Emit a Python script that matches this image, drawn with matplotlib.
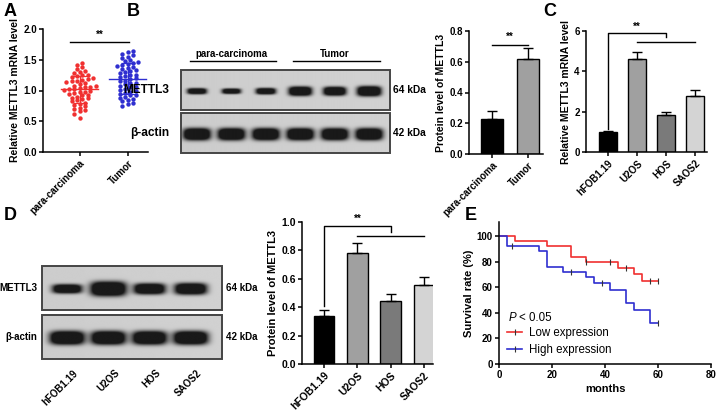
import numpy as np
import matplotlib
matplotlib.use("Agg")
import matplotlib.pyplot as plt
from matplotlib.patches import Rectangle
from matplotlib.lines import Line2D

plt.rcParams['font.family'] = ['Liberation Sans', 'DejaVu Sans']
plt.rcParams['font.weight'] = 'bold'
plt.rcParams['axes.labelweight'] = 'bold'
plt.rcParams['font.size'] = 7

W, H = 716, 413
fig = plt.figure(figsize=(W / 100, H / 100), dpi=100)

# ---- data ----
para_vals = [1.45, 1.41, 1.38, 1.35, 1.32, 1.30, 1.28, 1.26, 1.25, 1.23, 1.22, 1.20, 1.18, 1.17,
             1.16, 1.15, 1.14, 1.12, 1.10, 1.08, 1.07, 1.06, 1.05, 1.04, 1.03, 1.02, 1.01, 1.00,
             0.98, 0.97, 0.96, 0.95, 0.93, 0.92, 0.90, 0.88, 0.87, 0.86, 0.85, 0.83, 0.80, 0.78,
             0.76, 0.74, 0.72, 0.70, 0.68, 0.66, 0.62, 0.56]
tumor_vals = [1.65, 1.62, 1.60, 1.58, 1.55, 1.53, 1.50, 1.48, 1.46, 1.45, 1.43, 1.42, 1.40, 1.38,
              1.37, 1.35, 1.33, 1.31, 1.30, 1.28, 1.26, 1.25, 1.24, 1.22, 1.20, 1.18, 1.16, 1.15,
              1.13, 1.12, 1.10, 1.08, 1.06, 1.05, 1.03, 1.01, 1.00, 0.98, 0.96, 0.95, 0.93, 0.92,
              0.90, 0.88, 0.86, 0.85, 0.83, 0.80, 0.78, 0.75]
groups = ['para-carcinoma', 'Tumor']

b_protein = [0.225, 0.615]
b_err = [0.055, 0.075]
b_mettl3_bands = [0.45, 0.38, 0.5, 0.85, 0.8, 0.95]
b_actin_bands = [0.9, 0.9, 0.9, 0.9, 0.85, 0.9]

cells = ['hFOB1.19', 'U2OS', 'HOS', 'SAOS2']
c_mrna = [0.97, 4.62, 1.85, 2.8]
c_err = [0.08, 0.36, 0.15, 0.26]
d_protein = [0.335, 0.785, 0.445, 0.555]
d_err = [0.045, 0.065, 0.045, 0.055]
d_mettl3_bands = [0.55, 1.0, 0.7, 0.75]
d_actin_bands = [0.9, 0.9, 0.85, 0.9]

low_t = [0, 6, 18, 27, 33, 45, 51, 54, 60]
low_s = [100, 96, 92, 84, 80, 75, 70, 65, 65]
low_cens = [33, 42, 48, 57, 60]
high_t = [0, 3, 15, 18, 24, 33, 36, 42, 48, 51, 57, 60]
high_s = [100, 92, 88, 76, 72, 68, 63, 58, 47.5, 42, 32, 32]
high_cens = [5, 27, 39, 60]

bar_cols4 = ['#000000', '#a0a0a0', '#7a7a7a', '#d4d4d4']
red = '#f03030'
blue = '#2f2fd0'


def px_axes(x0, y0, x1, y1):
    return fig.add_axes([x0 / W, 1 - y1 / H, (x1 - x0) / W, (y1 - y0) / H])


def style(ax):
    for s in ['top', 'right']:
        ax.spines[s].set_visible(False)
    for s in ['left', 'bottom']:
        ax.spines[s].set_linewidth(1.1)
    ax.tick_params(width=1.1, length=3, pad=1.5, labelsize=7)


def bar_panel(ax, vals, errs, names, cols, ylim, yticks, ylabel):
    x = np.arange(len(vals))
    ax.bar(x, vals, width=0.62, color=cols, edgecolor='black', linewidth=1)
    ax.errorbar(x, vals, yerr=[np.zeros(len(vals)), errs], fmt='none', ecolor='black',
                elinewidth=1, capsize=3.5, capthick=1)
    ax.set_ylim(*ylim)
    ax.set_yticks(yticks)
    ax.set_xticks(x)
    ax.set_xticklabels(names, rotation=45, ha='right', rotation_mode='anchor')
    ax.set_ylabel(ylabel, fontsize=7.5, labelpad=2)
    style(ax)


# ---- A: scatter ----
axA = px_axes(43, 29, 148, 152)
for i, (vals, col) in enumerate([(para_vals, red), (tumor_vals, blue)]):
    v = np.array(sorted(vals))
    bins = np.round(v / 0.065).astype(int)
    xs = np.zeros(len(v))
    for b in np.unique(bins):
        idx = np.where(bins == b)[0]
        n = len(idx)
        xs[idx] = (np.arange(n) - (n - 1) / 2) * 0.11
    axA.scatter(i + xs, v, s=10, color=col, linewidths=0, zorder=3)
    m, sd = v.mean(), v.std(ddof=1)
    axA.plot([i - 0.38, i + 0.38], [m, m], color=col, lw=1, zorder=4)
    axA.errorbar([i], [m], yerr=[[sd], [sd]], fmt='none', ecolor=col, elinewidth=0.9,
                 capsize=5, capthick=0.9, zorder=4)
axA.plot([-0.2, 1.02], [1.79, 1.79], color='black', lw=1)
axA.text(0.41, 1.82, '**', ha='center', va='bottom', fontsize=7)
axA.set_xlim(-0.76, 1.42)
axA.set_ylim(0, 2.0)
axA.set_yticks([0, 0.5, 1.0, 1.5, 2.0])
axA.set_xticks([0, 1])
axA.set_xticklabels(groups, rotation=45, ha='right', rotation_mode='anchor')
axA.set_ylabel('Relative METTL3 mRNA level', fontsize=7.5, labelpad=2)
style(axA)


# ---- western blots ----
def blot(ax, mettl3, actin, xlim, half_w, actin_w, t0, t1, gap):
    xs = np.linspace(xlim[0], xlim[1], 600)
    ys = np.linspace(0, 1, 160)
    X, Y = np.meshgrid(xs, ys)
    for row, strengths in enumerate([mettl3, actin]):
        img = np.full(X.shape, 0.80) + 0.02 * (X - xlim[0]) / (xlim[1] - xlim[0])
        for i, s in enumerate(strengths):
            if row == 0:
                hw = half_w * (0.68 + 0.4 * s)
                th = t0 + t1 * s
            else:
                hw = half_w * actin_w
                th = 0.15
            band = np.exp(-np.abs((X - i) / hw) ** 4) * np.exp(-np.abs((Y - 0.53) / th) ** 3)
            img = img - (0.95 + 0.35 * s) * band
        img = np.clip(img, 0.1, 1)
        y0 = row * (1 + gap)
        ax.imshow(img, cmap='gray', vmin=0, vmax=1, aspect='auto',
                  extent=[xlim[0], xlim[1], y0 + 1, y0], interpolation='bilinear')
        ax.add_patch(Rectangle((xlim[0], y0), xlim[1] - xlim[0], 1, fill=False,
                               edgecolor='#454545', lw=1.4, clip_on=False))
    ax.set_xlim(*xlim)
    ax.set_ylim(2 + gap, 0)
    ax.axis('off')


axBb = px_axes(181, 70, 390, 153)
blot(axBb, b_mettl3_bands, b_actin_bands, (-0.46, 5.6), 0.33, 1.2, 0.03, 0.1, 0.1)
axBb.plot([-0.2, 2.3], [-0.22, -0.22], color='black', lw=1, clip_on=False)
axBb.plot([2.8, 5.3], [-0.22, -0.22], color='black', lw=1, clip_on=False)
axBb.text(1.0, -0.28, 'para-carcinoma', ha='center', va='bottom', fontsize=7)
axBb.text(4.0, -0.28, 'Tumor', ha='center', va='bottom', fontsize=7)
axBb.text(-0.8, 0.5, 'METTL3', ha='right', va='center', fontsize=8.6)
axBb.text(-0.8, 1.6, 'β-actin', ha='right', va='center', fontsize=8.6)
axBb.text(5.7, 0.5, '64 kDa', ha='left', va='center', fontsize=7.3)
axBb.text(5.7, 1.6, '42 kDa', ha='left', va='center', fontsize=7.3)

axDb = px_axes(42, 266, 222, 359)
blot(axDb, d_mettl3_bands, d_actin_bands, (-0.61, 3.78), 0.4, 1.05, 0.03, 0.13, 0.1)
axDb.text(-0.72, 0.5, 'METTL3', ha='right', va='center', fontsize=7)
axDb.text(-0.72, 1.6, 'β-actin', ha='right', va='center', fontsize=7)
axDb.text(3.88, 0.5, '64 kDa', ha='left', va='center', fontsize=7)
axDb.text(3.88, 1.6, '42 kDa', ha='left', va='center', fontsize=7)
for i, c in enumerate(cells):
    axDb.text(i + 0.15, 2.3, c, rotation=45, ha='right', va='top', fontsize=7,
              rotation_mode='anchor')

# ---- B: bars ----
axB = px_axes(469, 31, 543, 154)
bar_panel(axB, b_protein, b_err, groups, ['#000000', '#a0a0a0'], (0, 0.8),
          [0, 0.2, 0.4, 0.6, 0.8], 'Protein level of METTL3')
axB.set_xlim(-0.64, 1.42)
axB.plot([0, 1], [0.71, 0.71], color='black', lw=1)
axB.text(0.5, 0.73, '**', ha='center', va='bottom', fontsize=7)

# ---- C: bars ----
axC = px_axes(586, 31, 707, 152)
bar_panel(axC, c_mrna, c_err, cells, bar_cols4, (0, 6), [0, 2, 4, 6],
          'Relative METTL3 mRNA level')
axC.set_xlim(-0.76, 3.41)
axC.plot([0, 0, 2, 2], [1.15, 5.9, 5.9, 5.7], color='black', lw=1, clip_on=False)
axC.plot([1, 3], [5.45, 5.45], color='black', lw=1)
axC.text(1.0, 5.95, '**', ha='center', va='bottom', fontsize=7)

# ---- D: bars ----
axD = px_axes(302, 222, 433, 364)
bar_panel(axD, d_protein, d_err, cells, bar_cols4, (0, 1.0), [0, 0.2, 0.4, 0.6, 0.8, 1.0],
          'Protein level of METTL3')
axD.set_xlim(-0.66, 3.27)
axD.plot([0, 0, 2, 2], [0.41, 0.97, 0.97, 0.93], color='black', lw=1, clip_on=False)
axD.plot([1, 3], [0.9, 0.9], color='black', lw=1)
axD.text(1.0, 0.99, '**', ha='center', va='bottom', fontsize=7)
axD.tick_params(labelsize=7.5)
axD.set_ylabel('Protein level of METTL3', fontsize=8, labelpad=2)

# ---- E: survival ----
axE = px_axes(499, 222, 711, 364)


def surv_at(ts, ss, t):
    k = np.searchsorted(ts, t, side='right') - 1
    return ss[k]


axE.step(low_t, low_s, where='post', color=red, lw=1.2)
axE.step(high_t, high_s, where='post', color=blue, lw=1.2)
axE.plot(low_cens, [surv_at(low_t, low_s, t) for t in low_cens], '|', color='#333333',
         ms=4, mew=0.8)
axE.plot(high_cens, [surv_at(high_t, high_s, t) for t in high_cens], '|', color='#333333',
         ms=4, mew=0.8)
axE.set_xlim(0, 80)
axE.set_ylim(0, 111)
axE.set_xticks([0, 20, 40, 60, 80])
axE.set_yticks([0, 20, 40, 60, 80, 100])
axE.set_xlabel('months', fontsize=8, labelpad=3)
axE.set_ylabel('Survival rate (%)', fontsize=8, labelpad=2)
style(axE)
handles = [Line2D([], [], color=red, lw=1.2, marker='|', mec='#333333', ms=4, mew=0.8),
           Line2D([], [], color=blue, lw=1.2, marker='|', mec='#333333', ms=4, mew=0.8)]
leg = axE.legend(handles, ['Low expression', 'High expression'], loc='lower left',
                 bbox_to_anchor=(0.0, 0.0), frameon=False, handlelength=1.3,
                 handletextpad=0.6, borderaxespad=0.3, labelspacing=0.45, markerfirst=True,
                 prop={'weight': 'normal', 'size': 8.3})
axE.text(3.8, 36, 'P', fontsize=8.3, fontweight='normal', fontstyle='italic', va='center')
axE.text(7.6, 36, '< 0.05', fontsize=8.3, fontweight='normal', va='center')

# ---- panel letters ----
for lab, (x, y) in {'A': (4, 3), 'B': (127, 3), 'C': (543, 3), 'D': (4, 207),
                    'E': (465, 207)}.items():
    fig.text(x / W, 1 - y / H, lab, fontsize=13, fontweight='bold', va='top', ha='left')

fig.savefig('out.png', dpi=100)
